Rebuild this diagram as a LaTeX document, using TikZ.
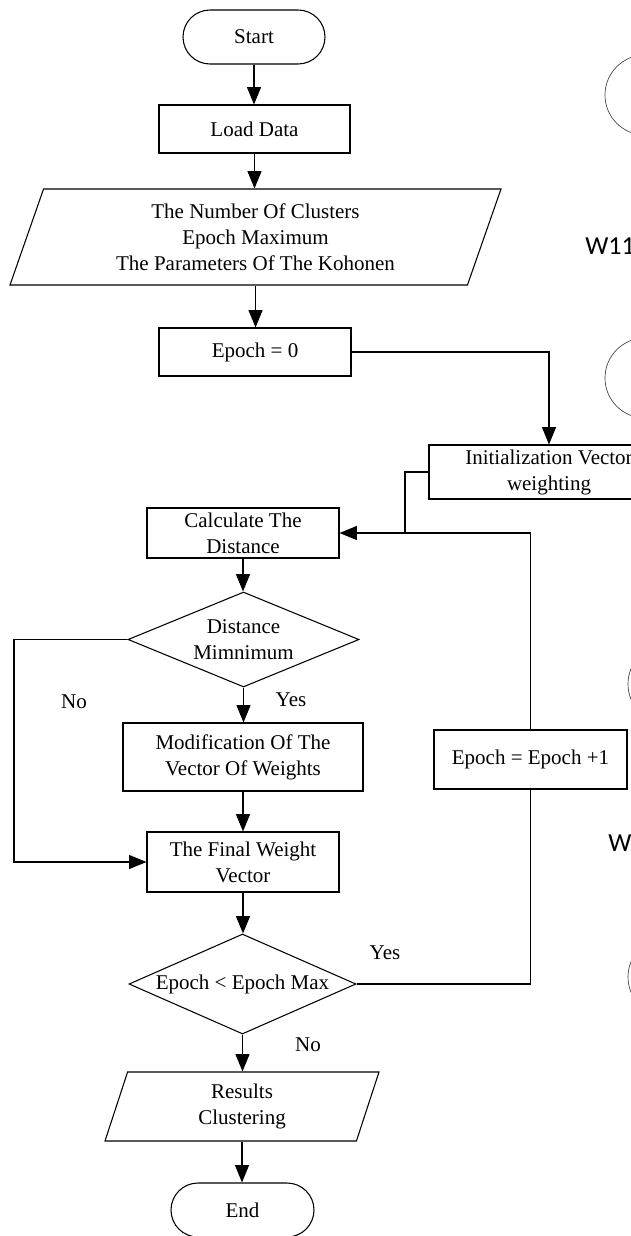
\documentclass[tikz,border=0pt]{standalone}
\usepackage{fontspec}
\setmainfont{Liberation Serif}
\newfontfamily\calib{Carlito}
\usetikzlibrary{shapes.geometric,shapes.misc,arrows.meta}
\begin{document}
\begin{tikzpicture}[x=0.75pt,y=-0.75pt,
  font=\fontsize{15.75}{19.5}\selectfont,
  base/.style={draw, line width=0.8pt, inner sep=0pt, align=center},
  proc/.style={base, rectangle},
  term/.style={base, rounded rectangle},
  io/.style={base, trapezium, trapezium left angle=63.4, trapezium right angle=116.6, trapezium stretches body},
  dec/.style={base, diamond},
  arr/.style={line width=0.8pt, -{Triangle[length=13pt,width=10.5pt]}},
  ln/.style={line width=0.8pt},
  side/.style={draw=black!75, line width=0.5pt, circle, minimum size=60pt, inner sep=0pt},
  lab/.style={inner sep=0pt},
  sans/.style={inner sep=0pt, anchor=west, font=\calib\fontsize{19.5}{22}\selectfont}
]
\useasboundingbox (0,0) rectangle (631,1236);
\clip (0,0) rectangle (631,1236);

% main column
\node[term, minimum width=106.5pt, minimum height=40.5pt] (start) at (254,37) {Start};
\node[proc, minimum width=143.25pt, minimum height=36pt] (load) at (254.5,129) {Load Data};
\node[io, minimum width=368.25pt, minimum height=72pt] (params) at (255.5,237) {The Number Of Clusters\\Epoch Maximum\\The Parameters Of The Kohonen};
\node[proc, minimum width=144pt, minimum height=36pt] (epoch0) at (255,352) {Epoch = 0};
\node[proc, minimum width=180pt, minimum height=40.5pt] (init) at (549,472) {Initialization Vector\\weighting};
\node[proc, minimum width=144pt, minimum height=37.5pt] (calc) at (243,533) {Calculate The\\Distance};
\node[dec, minimum width=173.25pt, minimum height=71.25pt, label={[align=center]center:Distance\\Mimnimum}] (dmin) at (243.5,639.5) {};
\node[proc, minimum width=180pt, minimum height=51pt] (mod) at (243,757) {Modification Of The\\Vector Of Weights};
\node[proc, minimum width=144pt, minimum height=45pt] (final) at (243,862) {The Final Weight\\Vector};
\node[dec, minimum width=170.25pt, minimum height=75pt, label={center:Epoch < Epoch Max}] (dmax) at (242.5,984) {};
\node[io, minimum width=205.5pt, minimum height=51.75pt] (res) at (242,1106.5) {Results\\Clustering};
\node[term, minimum width=107.25pt, minimum height=40.5pt] (end) at (242.5,1210) {End};
\node[proc, minimum width=144.75pt, minimum height=44.25pt] (ep1) at (530.5,759.5) {Epoch = Epoch +1};

% labels
\node[lab] (lno1) at (74,702) {No};
\node[lab] (lyes1) at (291,700) {Yes};
\node[lab] (lyes2) at (385,953) {Yes};
\node[lab] (lno2) at (308,1045) {No};

% partial elements at right edge
\node[side] (c1) at (645,95) {};
\node[side] (c2) at (645,378) {};
\node[side] (c3) at (668,684) {};
\node[side] (c4) at (668,977) {};
\node[sans] (w11) at (585,246) {W11};
\node[sans] (w2) at (608,843) {W};

% connectors
\draw[arr] (start.south) -- (start.south |- load.north);
\draw[arr] (load.south) -- (load.south |- params.north);
\draw[arr] (params.south) -- (params.south |- epoch0.north);
\draw[arr] (epoch0.east) -| (init.north);
\coordinate (j1) at (405,533);
\draw[ln] (init.west) -| (j1);
\draw[arr] (ep1.north) |- (calc.east);
\draw[arr] (calc.south) -- (calc.south |- dmin.north);
\coordinate (nl) at (14,639.5);
\draw[arr] (dmin.west) -- (nl) |- (final.west);
\draw[arr] (dmin.south) -- (dmin.south |- mod.north);
\draw[arr] (mod.south) -- (mod.south |- final.north);
\draw[arr] (final.south) -- (final.south |- dmax.north);
\draw[ln] (dmax.east) -| (ep1.south);
\draw[arr] (dmax.south) -- (dmax.south |- res.north);
\draw[arr] (res.south) -- (res.south |- end.north);
\end{tikzpicture}
\end{document}
